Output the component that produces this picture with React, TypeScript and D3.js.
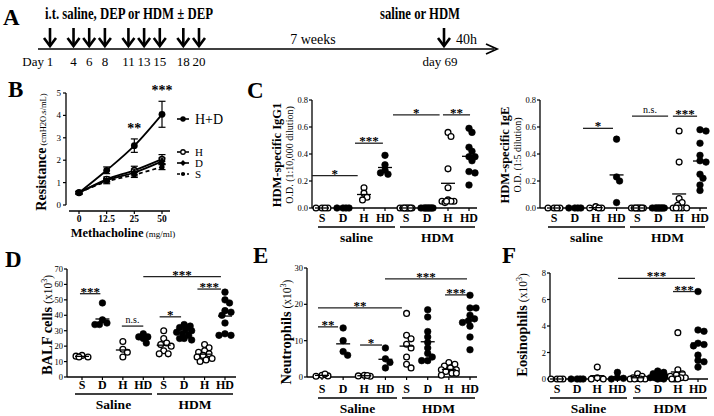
import React from "react";
import * as d3 from "d3";

// ---------- A: protocol timeline
const doseDays = [1, 4, 6, 8, 11, 13, 15, 18, 20];
const challengeDay = 69;

// ---------- B: airway resistance vs methacholine
const mchDoses = ["0", "12.5", "25", "50"];
const resHD = [0.55, 1.55, 2.65, 4.05];
const resHDErr = [0.08, 0.15, 0.3, 0.58];
const resH = [0.55, 1.15, 1.55, 2.05];
const resHErr = [0.05, 0.1, 0.18, 0.2];
const resD = [0.55, 1.1, 1.45, 1.95];
const resDErr = [0.05, 0.08, 0.15, 0.15];
const resS = [0.55, 1.05, 1.35, 1.7];
const resSErr = [0.05, 0.1, 0.12, 0.12];
const resStars = ["", "", "**", "***"];

// ---------- C-F: scatter panels
const groups = ["S", "D", "H", "HD", "S", "D", "H", "HD"];
const openGroups = ["S", "H"];

const igg1 = [
  [0, 0, 0, 0],
  [0, 0, 0, 0],
  [0.15, 0.11, 0.08, 0.06],
  [0.39, 0.32, 0.28, 0.25, 0.26],
  [0, 0, 0, 0, 0, 0, 0, 0],
  [0, 0, 0, 0, 0, 0, 0, 0],
  [0.56, 0.53, 0.29, 0.15, 0.06, 0.05, 0.05, 0.05, 0.04, 0.05],
  [0.59, 0.56, 0.45, 0.42, 0.38, 0.38, 0.35, 0.27, 0.26, 0.17],
];
const ige = [
  [0, 0, 0, 0],
  [0, 0, 0, 0],
  [0.01, 0, 0, 0],
  [0.51, 0.23, 0.2, 0.04],
  [0, 0, 0, 0, 0, 0, 0, 0],
  [0, 0, 0, 0, 0, 0, 0, 0],
  [0.57, 0.34, 0.07, 0.04, 0.02, 0, 0, 0, 0, 0],
  [0.58, 0.57, 0.48, 0.39, 0.35, 0.34, 0.25, 0.22, 0.17, 0.13],
];
const balf = [
  [14, 13, 13.5, 13],
  [48, 37, 35, 34, 34],
  [23, 18, 16, 13],
  [28, 26, 26, 25, 22],
  [30, 25, 22, 21, 20, 17, 15, 15],
  [34, 33, 32, 31, 30, 29, 28, 27, 25, 25, 24],
  [21, 19, 17, 16, 15, 14, 13, 12, 11, 10],
  [55, 50, 48, 43, 42, 40, 35, 28, 27, 27],
];
const neutro = [
  [0.5, 0.3, 0.2, 0.8],
  [13.5, 10, 7, 6],
  [0.5, 0.2, 0.3, 0.4],
  [8, 5, 4, 2.5],
  [17.5, 11.5, 10.5, 9, 8, 5.5, 3.5, 2.5],
  [18.5, 16.5, 12.5, 11, 9.5, 8, 6.5, 5.5, 4.5, 4.5],
  [4, 3.5, 3, 2.5, 2, 2, 1.5, 1, 1, 0.5],
  [22.5, 19, 19, 17, 16, 15.5, 15, 14, 11, 7.5],
];
const eosino = [
  [0, 0, 0, 0],
  [0, 0, 0, 0],
  [0.9, 0.1, 0, 0],
  [0.5, 0.1, 0.05, 0],
  [0.4, 0.2, 0.1, 0.05, 0, 0, 0, 0],
  [0.6, 0.5, 0.4, 0.3, 0.2, 0.1, 0.1, 0.05, 0, 0],
  [3.5, 0.7, 0.4, 0.3, 0.2, 0.1, 0.1, 0, 0, 0],
  [6.6, 3.7, 3.6, 2.7, 2.6, 2.5, 1.8, 1.4, 1.3, 0.9],
];

// significance bars: [from group index, to group index, y value, label]
const igg1Sig: [number, number, number, string][] = [
  [-0.48, 1.7, 0.24, "*"],
  [1.57, 2.9, 0.48, "***"],
  [3.38, 5.6, 0.69, "*"],
  [5.76, 7.05, 0.69, "**"],
];
const igeSig: [number, number, number, string][] = [
  [1.39, 2.83, 0.59, "*"],
  [3.74, 5.47, 0.68, "n.s."],
  [5.7, 6.86, 0.68, "***"],
];
const balfSig: [number, number, number, string][] = [
  [-0.1, 0.9, 54, "***"],
  [1.95, 3.0, 33, "n.s."],
  [3.8, 4.85, 39, "*"],
  [3.0, 6.8, 65, "***"],
  [5.65, 6.8, 57, "***"],
];
const neutroSig: [number, number, number, string][] = [
  [2.98, 6.86, 27, "***"],
  [5.82, 6.86, 22.6, "***"],
  [-0.19, 3.78, 19, "**"],
  [-0.19, 0.76, 13.8, "**"],
  [1.8, 2.84, 8.8, "*"],
];
const eosinoSig: [number, number, number, string][] = [
  [3.03, 6.85, 7.6, "***"],
  [5.76, 6.85, 6.6, "***"],
];

const SERIF = "'Liberation Serif', 'DejaVu Serif', serif";

function swarm(vals: number[], y: d3.ScaleLinear<number, number>) {
  const cands = d3.range(0, 6).flatMap((k) => (k === 0 ? [0] : [k * 1.5, -k * 1.5]));
  const placed: { dx: number; cy: number }[] = [];
  for (const v of vals) {
    const cy = y(v);
    let best = 0;
    let bestD = -1;
    for (const c of cands) {
      let md = Infinity;
      for (const p of placed) md = Math.min(md, Math.hypot(c - p.dx, cy - p.cy));
      if (md >= 5) {
        best = c;
        bestD = Infinity;
        break;
      }
      if (md > bestD) {
        bestD = md;
        best = c;
      }
    }
    placed.push({ dx: best, cy });
  }
  return placed;
}

type PanelCfg = {
  data: number[][];
  sig: [number, number, number, string][];
  domain: [number, number];
  ticks: number[];
  fmt: string;
  yRange: [number, number];
  axisX: number;
  xRange: [number, number];
  xEnd: number;
  catY: number;
  groupNames: string[];
  groupSegs: [number, number][];
  labelX: number;
  labelY: number;
  label1: string;
  label2: string;
  sup?: boolean;
};

function ScatterPanel({ c }: { c: PanelCfg }) {
  const y = d3.scaleLinear().domain(c.domain).range(c.yRange);
  const xi = d3.scaleLinear().domain([0, groups.length - 1]).range(c.xRange);
  const y0 = y(0);
  return (
    <g fontFamily={SERIF}>
      {/* y axis */}
      <line x1={c.axisX} x2={c.axisX} y1={y(c.domain[0])} y2={y(c.domain[1])} stroke="#000" strokeWidth={1.3} />
      {c.ticks.map((t) => (
        <g key={t}>
          <line x1={c.axisX - 3} x2={c.axisX} y1={y(t)} y2={y(t)} stroke="#000" strokeWidth={1.2} />
          <text x={c.axisX - 4} y={y(t) + 3} fontSize={8.5} textAnchor="end">
            {d3.format(c.fmt)(t)}
          </text>
        </g>
      ))}
      {/* x axis */}
      <line x1={c.axisX} x2={c.xEnd} y1={y0} y2={y0} stroke="#000" strokeWidth={1.4} />
      {groups.map((g, i) => (
        <g key={i}>
          <line x1={xi(i)} x2={xi(i)} y1={y0} y2={y0 + 3} stroke="#000" strokeWidth={1.2} />
          <text x={xi(i)} y={c.catY} fontSize={12} fontWeight="bold" textAnchor="middle">
            {g}
          </text>
        </g>
      ))}
      {c.groupSegs.map((s, i) => (
        <g key={i}>
          <line x1={s[0]} x2={s[1]} y1={c.catY + 5} y2={c.catY + 5} stroke="#000" strokeWidth={1.6} />
          <text x={(s[0] + s[1]) / 2} y={c.catY + 20} fontSize={13.5} fontWeight="bold" textAnchor="middle">
            {c.groupNames[i]}
          </text>
        </g>
      ))}
      {/* points */}
      {c.data.map((vals, i) => {
        const open = openGroups.includes(groups[i]);
        const pts = swarm(vals, y);
        const m = d3.mean(vals) ?? 0;
        return (
          <g key={i}>
            {pts.map((p, j) => (
              <circle
                key={j}
                cx={xi(i) + p.dx}
                cy={p.cy}
                r={open ? 2.9 : 3.3}
                fill={open ? "#fff" : "#000"}
                stroke="#000"
                strokeWidth={open ? 1.3 : 0.6}
              />
            ))}
            <line x1={xi(i) - 7} x2={xi(i) + 7} y1={y(m)} y2={y(m)} stroke="#000" strokeWidth={1.3} />
          </g>
        );
      })}
      {/* significance */}
      {c.sig.map(([a, b, v, lab], i) => (
        <g key={i}>
          <line x1={xi(a)} x2={xi(b)} y1={y(v)} y2={y(v)} stroke="#222" strokeWidth={1.3} />
          <text
            x={(xi(a) + xi(b)) / 2}
            y={lab === "n.s." ? y(v) - 3 : y(v) + 2}
            fontSize={lab === "n.s." ? 10 : 13}
            fontWeight={lab === "n.s." ? "normal" : "bold"}
            textAnchor="middle"
          >
            {lab}
          </text>
        </g>
      ))}
      {/* y label */}
      <text
        transform={`translate(${c.labelX},${c.labelY}) rotate(-90)`}
        textAnchor="middle"
        fontSize={c.sup ? 14.5 : 12.5}
        fontWeight="bold"
      >
        {c.label1}
        {c.sup ? (
          <>
            <tspan fontWeight="normal" fontSize={11.5}>
              {" (x10"}
            </tspan>
            <tspan fontWeight="normal" fontSize={8} dy={-5}>
              3
            </tspan>
            <tspan fontWeight="normal" fontSize={11.5} dy={5}>
              )
            </tspan>
          </>
        ) : null}
      </text>
      {c.label2 ? (
        <text transform={`translate(${c.labelX + 12},${c.labelY}) rotate(-90)`} textAnchor="middle" fontSize={10}>
          {c.label2}
        </text>
      ) : null}
    </g>
  );
}

function Timeline() {
  const x = d3.scaleLinear().domain([1, 20, challengeDay]).range([50, 199, 444]);
  const arrow = (cx: number, key: string | number) => (
    <g key={key} stroke="#000" strokeWidth={2.6} fill="none">
      <line x1={cx} x2={cx} y1={28} y2={45} />
      <path d={`M${cx - 6},${38} L${cx},${46} L${cx + 6},${38}`} />
    </g>
  );
  return (
    <g fontFamily={SERIF}>
      <text x={3} y={25} fontSize={23} fontWeight="bold">A</text>
      <text x={129} y={19} fontSize={16} fontWeight="bold" textAnchor="middle" textLength={168} lengthAdjust="spacingAndGlyphs">
        i.t. saline, DEP or HDM ± DEP
      </text>
      <text x={420} y={19} fontSize={16} fontWeight="bold" textAnchor="middle" textLength={80} lengthAdjust="spacingAndGlyphs">
        saline or HDM
      </text>
      <line x1={38} x2={494} y1={49} y2={49} stroke="#000" strokeWidth={1.5} />
      <path d="M486,44 L497,49 L486,54" stroke="#000" strokeWidth={1.8} fill="none" />
      {doseDays.map((d) => arrow(x(d), d))}
      {arrow(x(challengeDay), "c")}
      <text x={44} y={66} fontSize={13} textAnchor="end">Day</text>
      {doseDays.map((d) => (
        <text key={d} x={x(d)} y={66} fontSize={13} textAnchor="middle">
          {d}
        </text>
      ))}
      <text x={x(challengeDay) - 4} y={66} fontSize={13} textAnchor="middle">day {challengeDay}</text>
      <text x={313} y={44} fontSize={14} textAnchor="middle">7 weeks</text>
      <text x={456} y={44} fontSize={14}>40h</text>
    </g>
  );
}

function ResistancePanel() {
  const x = d3.scalePoint<string>().domain(mchDoses).range([79, 162]);
  const y = d3.scaleLinear().domain([0, 5]).range([205, 93]);
  const ln = d3
    .line<number>()
    .x((_, i) => x(mchDoses[i]) ?? 0)
    .y((d) => y(d))
    .curve(d3.curveMonotoneX);
  const series = [
    { name: "H+D", vals: resHD, err: resHDErr, dash: "", marker: "fc", ly: 119, fs: 14 },
    { name: "H", vals: resH, err: resHErr, dash: "", marker: "oc", ly: 152, fs: 11 },
    { name: "D", vals: resD, err: resDErr, dash: "", marker: "dm", ly: 163, fs: 11 },
    { name: "S", vals: resS, err: resSErr, dash: "4,3", marker: "sc", ly: 174, fs: 11 },
  ];
  const mark = (m: string, cx: number, cy: number, key: string | number, k = 1) => {
    if (m === "fc") return <circle key={key} cx={cx} cy={cy} r={3.4 * k} fill="#000" />;
    if (m === "oc") return <circle key={key} cx={cx} cy={cy} r={2.8 * k} fill="#fff" stroke="#000" strokeWidth={1.3} />;
    if (m === "dm")
      return (
        <path key={key} d={`M${cx},${cy - 3.6 * k} L${cx + 3.6 * k},${cy} L${cx},${cy + 3.6 * k} L${cx - 3.6 * k},${cy} Z`} fill="#000" />
      );
    return <circle key={key} cx={cx} cy={cy} r={2.6 * k} fill="#000" />;
  };
  return (
    <g fontFamily={SERIF}>
      <text x={8} y={97} fontSize={23} fontWeight="bold">B</text>
      <line x1={66} x2={66} y1={y(5)} y2={y(0)} stroke="#000" strokeWidth={1.3} />
      {d3.range(0, 6).map((t) => (
        <g key={t}>
          <line x1={63} x2={66} y1={y(t)} y2={y(t)} stroke="#000" strokeWidth={1.2} />
          <text x={61} y={y(t) + 3} fontSize={9} textAnchor="end">{t}</text>
        </g>
      ))}
      <line x1={69} x2={170} y1={211} y2={211} stroke="#000" strokeWidth={1.3} />
      {mchDoses.map((d) => (
        <g key={d}>
          <line x1={x(d)} x2={x(d)} y1={211} y2={214} stroke="#000" strokeWidth={1.2} />
          <text x={x(d)} y={222} fontSize={9.5} fontWeight="bold" textAnchor="middle">{d}</text>
        </g>
      ))}
      {series.map((s) => (
        <g key={s.name}>
          <path d={ln(s.vals) ?? ""} fill="none" stroke="#000" strokeWidth={1.8} strokeDasharray={s.dash} />
          {s.vals.map((v, i) => {
            const cx = x(mchDoses[i]) ?? 0;
            return (
              <g key={i} stroke="#000" strokeWidth={1.2}>
                <line x1={cx} x2={cx} y1={y(v - s.err[i])} y2={y(v + s.err[i])} />
                <line x1={cx - 3.5} x2={cx + 3.5} y1={y(v - s.err[i])} y2={y(v - s.err[i])} />
                <line x1={cx - 3.5} x2={cx + 3.5} y1={y(v + s.err[i])} y2={y(v + s.err[i])} />
              </g>
            );
          })}
          {s.vals.map((v, i) => mark(s.marker, x(mchDoses[i]) ?? 0, y(v), i))}
          <line x1={177} x2={189} y1={s.ly} y2={s.ly} stroke="#000" strokeWidth={1.6} strokeDasharray={s.dash ? "3,2" : ""} />
          {mark(s.marker, 183, s.ly, "l", 0.8)}
          <text x={195} y={s.ly + (s.fs > 13 ? 5 : 4)} fontSize={s.fs}>{s.name}</text>
        </g>
      ))}
      {resStars.map((st, i) =>
        st ? (
          <text key={i} x={x(mchDoses[i])} y={y(resHD[i] + resHDErr[i]) - 6} fontSize={14} fontWeight="bold" textAnchor="middle">
            {st}
          </text>
        ) : null
      )}
      <text transform="translate(46,152) rotate(-90)" textAnchor="middle" fontSize={14} fontWeight="bold">
        Resistance<tspan fontWeight="normal" fontSize={8.5}> (cmH2O.s/mL)</tspan>
      </text>
      <text x={123} y={237} textAnchor="middle" fontSize={12.5} fontWeight="bold">
        Methacholine<tspan fontWeight="normal" fontSize={9}> (mg/ml)</tspan>
      </text>
    </g>
  );
}

const panels: PanelCfg[] = [
  {
    data: igg1, sig: igg1Sig, domain: [0, 0.8], ticks: [0, 0.2, 0.4, 0.6, 0.8], fmt: ".1f",
    yRange: [208, 100], axisX: 312, xRange: [322, 469], xEnd: 477, catY: 222,
    groupNames: ["saline", "HDM"], groupSegs: [[318, 395], [400, 475]],
    labelX: 281, labelY: 155, label1: "HDM-specific IgG1", label2: "O.D. (1:10,000 dilution)",
  },
  {
    data: ige, sig: igeSig, domain: [0, 0.8], ticks: [0, 0.2, 0.4, 0.6, 0.8], fmt: ".1f",
    yRange: [208, 100], axisX: 540, xRange: [554, 700], xEnd: 707, catY: 222,
    groupNames: ["saline", "HDM"], groupSegs: [[548, 625], [630, 705]],
    labelX: 509, labelY: 155, label1: "HDM-specific IgE", label2: "O.D. (1:5 dilution)",
  },
  {
    data: balf, sig: balfSig, domain: [0, 70], ticks: d3.range(0, 71, 10), fmt: "d",
    yRange: [377, 269], axisX: 67, xRange: [82, 225], xEnd: 236, catY: 389,
    groupNames: ["Saline", "HDM"], groupSegs: [[75, 152], [157, 233]],
    labelX: 52, labelY: 325, label1: "BALF cells", label2: "", sup: true,
  },
  {
    data: neutro, sig: neutroSig, domain: [0, 30], ticks: [0, 10, 20, 30], fmt: "d",
    yRange: [377, 268], axisX: 307, xRange: [322, 470], xEnd: 477, catY: 393,
    groupNames: ["Saline", "HDM"], groupSegs: [[318, 397], [402, 475]],
    labelX: 291, labelY: 332, label1: "Neutrophils", label2: "", sup: true,
  },
  {
    data: eosino, sig: eosinoSig, domain: [0, 8], ticks: [0, 2, 4, 6, 8], fmt: "d",
    yRange: [379, 273], axisX: 550, xRange: [557, 698], xEnd: 708, catY: 393,
    groupNames: ["Saline", "HDM"], groupSegs: [[550, 627], [633, 707]],
    labelX: 527, labelY: 325, label1: "Eosinophils", label2: "", sup: true,
  },
];

export default function App() {
  return (
    <svg width={714} height={416} style={{ position: "absolute", left: 0, top: 0, background: "#fff" }}>
      <rect width={714} height={416} fill="#fff" />
      <Timeline />
      <ResistancePanel />
      <text x={247} y={98} fontSize={23} fontWeight="bold" fontFamily={SERIF}>C</text>
      <text x={5} y={267} fontSize={23} fontWeight="bold" fontFamily={SERIF}>D</text>
      <text x={253} y={263} fontSize={23} fontWeight="bold" fontFamily={SERIF}>E</text>
      <text x={502} y={263} fontSize={23} fontWeight="bold" fontFamily={SERIF}>F</text>
      {panels.map((p, i) => (
        <ScatterPanel key={i} c={p} />
      ))}
    </svg>
  );
}
